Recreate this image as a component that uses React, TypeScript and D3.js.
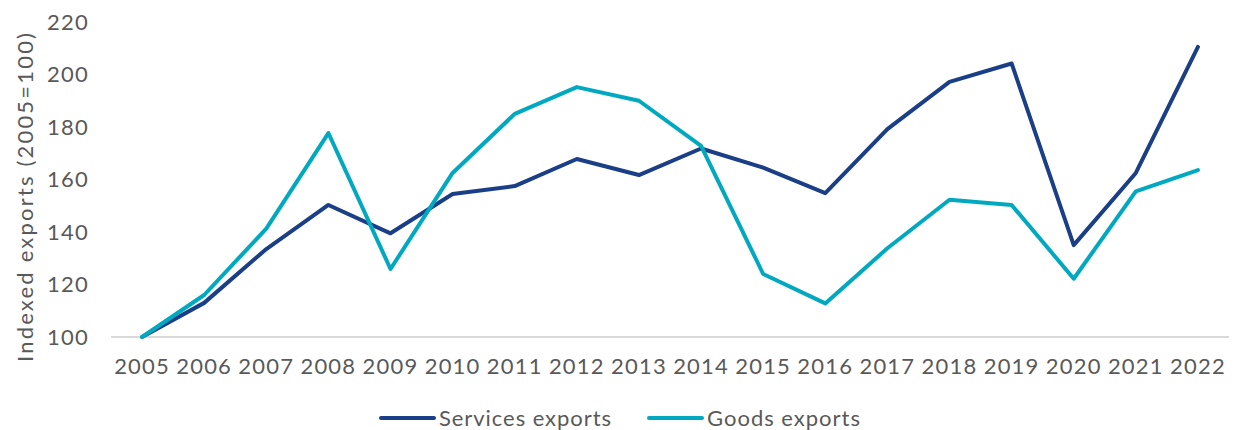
import React from "react";
import * as d3 from "d3";

const years = ["2005","2006","2007","2008","2009","2010","2011","2012","2013","2014","2015","2016","2017","2018","2019","2020","2021","2022"];
const services = [100,113,133.5,150.3,139.5,154.5,157.5,167.8,161.7,171.8,164.5,154.8,179.2,197.2,204.2,135,162.5,210.5];
const goods = [100,116,141.3,177.7,125.9,162.5,185,195.2,190,172.8,124,112.8,133.8,152.3,150.3,122.2,155.5,163.6];
const yTicks = [100,120,140,160,180,200,220];
const seriesNames = ["Services exports","Goods exports"];
const colors = ["#1B3F87","#00A9C0"];

export default function App() {
  const W = 1236, H = 430;
  const x = d3.scaleBand().domain(years).range([111, 1229]);
  const y = d3.scaleLinear().domain([100, 220]).range([337, 22]);
  const cx = (d: string) => (x(d) as number) + x.bandwidth() / 2;
  const line = d3.line<number>().x((_, i) => cx(years[i])).y(v => y(v));
  const font = "Lato, 'Open Sans', sans-serif";
  const txt = "#595959";
  const legendPos = [{ lx: 381, tl: 172 }, { lx: 649, tl: 153 }];
  return (
    <svg width={W} height={H} style={{ position: "absolute", left: 0, top: 0 }} fontFamily={font}>
      <line x1={111} x2={1229} y1={y(100)} y2={y(100)} stroke="#D9D9D9" strokeWidth={2} />
      {yTicks.map(t => (
        <text key={t} x={89} y={y(t)} dy="0.35em" textAnchor="end" fontSize={22} fill={txt} letterSpacing={1.2}>{t}</text>
      ))}
      {years.map(yr => (
        <text key={yr} x={cx(yr)} y={366} dy="0.35em" textAnchor="middle" fontSize={22} fill={txt} letterSpacing={1.2}>{yr}</text>
      ))}
      <text transform={`translate(25,${(33 + 362) / 2}) rotate(-90)`} textAnchor="middle" dy="0.35em" fontSize={22} fill={txt} textLength={329} lengthAdjust="spacing">Indexed exports (2005=100)</text>
      {[services, goods].map((s, i) => (
        <path key={i} d={line(s) as string} fill="none" stroke={colors[i]} strokeWidth={4} strokeLinejoin="round" strokeLinecap="round" />
      ))}
      {seriesNames.map((n, i) => {
        const { lx, tl } = legendPos[i];
        return (
          <g key={n}>
            <line x1={lx} x2={lx + 53} y1={418} y2={418} stroke={colors[i]} strokeWidth={4} strokeLinecap="round" />
            <text x={lx + 58} y={418} dy="0.35em" fontSize={22} fill={txt} textLength={tl} lengthAdjust="spacing">{n}</text>
          </g>
        );
      })}
    </svg>
  );
}
